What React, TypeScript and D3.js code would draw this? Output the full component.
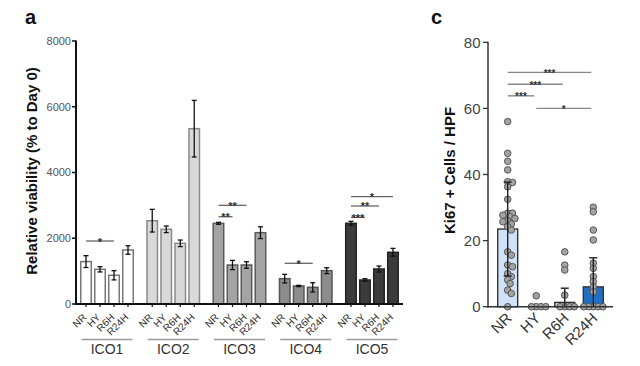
import React from 'react';
import * as d3 from 'd3';

// ---------- Panel a data ----------
const groups = ['ICO1', 'ICO2', 'ICO3', 'ICO4', 'ICO5'];
const conditions = ['NR', 'HY', 'R6H', 'R24H'];
const ico1Mean = [1290, 1055, 873, 1643];
const ico1Err = [180, 80, 140, 130];
const ico2Mean = [2534, 2272, 1846, 5333];
const ico2Err = [345, 100, 100, 860];
const ico3Mean = [2454, 1186, 1186, 2169];
const ico3Err = [30, 140, 100, 180];
const ico4Mean = [771, 548, 507, 1014];
const ico4Err = [130, 20, 140, 90];
const ico5Mean = [2454, 730, 1065, 1572];
const ico5Err = [60, 40, 90, 120];
const viabilityTicks = [0, 2000, 4000, 6000, 8000];
const sigA = [
  { group: 'ICO1', from: 'NR', to: 'R6H', y: 1916, label: '*' },
  { group: 'ICO3', from: 'NR', to: 'HY', y: 2655, label: '**' },
  { group: 'ICO3', from: 'NR', to: 'R6H', y: 3002, label: '**' },
  { group: 'ICO4', from: 'NR', to: 'R6H', y: 1238, label: '*' },
  { group: 'ICO5', from: 'NR', to: 'HY', y: 2637, label: '***' },
  { group: 'ICO5', from: 'NR', to: 'R6H', y: 2981, label: '**' },
  { group: 'ICO5', from: 'NR', to: 'R24H', y: 3264, label: '*' },
];

// ---------- Panel c data ----------
const kiCats = ['NR', 'HY', 'R6H', 'R24H'];
const kiMean = [23.5, 0, 1.3, 6.0];
const kiSd = [14.2, 0, 4.3, 8.8];
const kiNR = [56, 46.4, 44, 41.4, 37.8, 37.6, 36.3, 32.5, 28.3, 28.3, 27.7, 27.2, 26.7, 26, 25.7, 25, 24.2, 23.2, 16.6, 15.6, 12.6, 12.1, 10, 9.1, 8.1, 7, 5, 4, 0];
const kiHY = [3.3, 0, 0, 0, 0];
const kiR6H = [16.6, 12.6, 11.1, 3.5, 0, 0, 0, 0];
const kiR24H = [30.1, 28.7, 23.2, 20.2, 13.2, 11.6, 9.1, 7.6, 6, 4.5, 0, 0, 0, 0, 0];
const kiTicks = [0, 20, 40, 60, 80];
const sigC = [
  { from: 'NR', to: 'R24H', y: 70.9, label: '***' },
  { from: 'NR', to: 'R6H', y: 67.3, label: '***' },
  { from: 'NR', to: 'HY', y: 63.8, label: '***' },
  { from: 'HY', to: 'R24H', y: 60, label: '*' },
];

const groupMeans = [ico1Mean, ico2Mean, ico3Mean, ico4Mean, ico5Mean];
const groupErrs = [ico1Err, ico2Err, ico3Err, ico4Err, ico5Err];
const groupFill = ['#ffffff', '#d9d9d9', '#a4a4a4', '#8d8d8d', '#3b3b3b'];
const groupStroke = ['#777777', '#8a8a8a', '#5a5a5a', '#555555', '#222222'];
const kiValues = [kiNR, kiHY, kiR6H, kiR24H];
const kiFill = ['#cfe2f8', '#cfe2f8', '#cfe2f8', '#1f6fc5'];

const FONT = 'Liberation Sans, Arial, Helvetica, sans-serif';

function swarm(values: number[], y: (v: number) => number, minDist: number, step: number) {
  const order = values.map((v, i) => i).sort((a, b) => values[b] - values[a]);
  const placed: { x: number; y: number }[] = [];
  const offs = new Array(values.length).fill(0);
  order.forEach((i) => {
    const py = y(values[i]);
    for (let k = 0; k < 80; k++) {
      const m = Math.ceil(k / 2) * step * (k % 2 === 1 ? 1 : -1);
      const ok = placed.every((p) => Math.hypot(p.x - m, p.y - py) >= minDist);
      if (ok) {
        offs[i] = m;
        placed.push({ x: m, y: py });
        break;
      }
    }
  });
  return offs;
}

export default function App() {
  // Panel a scales
  const yA = d3.scaleLinear().domain([0, 8000]).range([304, 41]);
  const gx = d3.scaleBand<string>().domain(groups).range([73.9, 405.1]).padding(0);
  const bx = d3
    .scaleBand<string>()
    .domain(conditions)
    .range([5.1, 61.1])
    .paddingInner(0.25)
    .paddingOuter(0.125);
  const barCenter = (g: string, c: string) => (gx(g) as number) + (bx(c) as number) + bx.bandwidth() / 2;

  // Panel c scales
  const yC = d3.scaleLinear().domain([0, 80]).range([306.7, 42.3]);
  const cx = d3.scaleBand<string>().domain(kiCats).range([488, 613]).paddingInner(0.3).paddingOuter(0.34);
  const cCenter = (c: string) => (cx(c) as number) + cx.bandwidth() / 2;

  return (
    <svg
      width={640}
      height={366}
      style={{ position: 'absolute', left: 0, top: 0, background: '#fff' }}
      fontFamily={FONT}
    >
      <rect x={0} y={0} width={640} height={366} fill="#fff" />
      {/* ---------------- Panel a ---------------- */}
      <text x={25} y={24} fontSize={20} fontWeight="bold" fill="#111">a</text>
      <text
        transform={`translate(37,171) rotate(-90)`}
        textAnchor="middle"
        fontSize={15}
        fontWeight="bold"
        fill="#111"
      >
        Relative viability (% to Day 0)
      </text>
      {viabilityTicks.map((t) => (
        <g key={t}>
          <line x1={72} x2={76} y1={yA(t)} y2={yA(t)} stroke="#111" strokeWidth={1.5} />
          <text x={71} y={yA(t)} dy="0.35em" textAnchor="end" fontSize={11} fill="#555">
            {t}
          </text>
        </g>
      ))}
      {groups.map((g, gi) => (
        <g key={g}>
          {conditions.map((c, ci) => {
            const x = (gx(g) as number) + (bx(c) as number);
            const m = groupMeans[gi][ci];
            const e = groupErrs[gi][ci];
            const xc = barCenter(g, c);
            return (
              <g key={c}>
                <rect
                  x={x}
                  y={yA(m)}
                  width={bx.bandwidth()}
                  height={yA(0) - yA(m)}
                  fill={groupFill[gi]}
                  stroke={groupStroke[gi]}
                  strokeWidth={1.5}
                />
                <line x1={xc} x2={xc} y1={yA(m + e)} y2={yA(m - e)} stroke="#111" strokeWidth={1.3} />
                <line x1={xc - 2.5} x2={xc + 2.5} y1={yA(m + e)} y2={yA(m + e)} stroke="#111" strokeWidth={1.3} />
                <line x1={xc - 2.5} x2={xc + 2.5} y1={yA(m - e)} y2={yA(m - e)} stroke="#111" strokeWidth={1.3} />
                <line x1={xc} x2={xc} y1={304} y2={307} stroke="#111" strokeWidth={1.2} />
                <text
                  transform={`translate(${xc + 1},${318}) rotate(-45)`}
                  textAnchor="end"
                  fontSize={10}
                  fill="#333"
                >
                  {c}
                </text>
              </g>
            );
          })}
          <line
            x1={(gx(g) as number) + gx.bandwidth() / 2 - 25.5}
            x2={(gx(g) as number) + gx.bandwidth() / 2 + 25.5}
            y1={339.5}
            y2={339.5}
            stroke="#9a9a9a"
            strokeWidth={1.5}
          />
          <text
            x={(gx(g) as number) + gx.bandwidth() / 2}
            y={353.5}
            textAnchor="middle"
            fontSize={14}
            fill="#333"
          >
            {g}
          </text>
        </g>
      ))}
      {sigA.map((s, i) => {
        const x1 = barCenter(s.group, s.from);
        const x2 = barCenter(s.group, s.to);
        return (
          <g key={i}>
            <line x1={x1} x2={x2} y1={yA(s.y)} y2={yA(s.y)} stroke="#666" strokeWidth={1.3} />
            <text x={(x1 + x2) / 2} y={yA(s.y) + 4.5} textAnchor="middle" fontSize={11} fontWeight="bold" fill="#333">
              {s.label}
            </text>
          </g>
        );
      })}
      <line x1={76} x2={76} y1={40.5} y2={305} stroke="#111" strokeWidth={2} />
      <line x1={75} x2={403} y1={304} y2={304} stroke="#111" strokeWidth={2} />

      {/* ---------------- Panel c ---------------- */}
      <text x={431} y={24} fontSize={20} fontWeight="bold" fill="#111">c</text>
      <text
        transform={`translate(455,170.5) rotate(-90)`}
        textAnchor="middle"
        fontSize={15}
        fontWeight="bold"
        fill="#111"
      >
        Ki67 + Cells / HPF
      </text>
      {kiTicks.map((t) => (
        <g key={t}>
          <line x1={483} x2={488} y1={yC(t)} y2={yC(t)} stroke="#333" strokeWidth={1.3} />
          <text x={480.5} y={yC(t)} dy="0.35em" textAnchor="end" fontSize={15} fill="#444">
            {t}
          </text>
        </g>
      ))}
      {kiCats.map((c, i) => {
        const x = cx(c) as number;
        const xc = cCenter(c);
        const m = kiMean[i];
        const sd = kiSd[i];
        const top = m + sd;
        const bot = Math.max(0, m - sd);
        const offs = swarm(kiValues[i], yC, 4.2, 1.2);
        return (
          <g key={c}>
            <rect
              x={x}
              y={yC(m)}
              width={cx.bandwidth()}
              height={yC(0) - yC(m)}
              fill={kiFill[i]}
              stroke="#333"
              strokeWidth={1.4}
            />
            {kiValues[i].map((v, j) => (
              <circle
                key={j}
                cx={xc + offs[j]}
                cy={yC(v)}
                r={3.3}
                fill="#a3a3a3"
                stroke="#555"
                strokeWidth={1}
              />
            ))}
            {sd > 0 && (
              <g>
                <line x1={xc} x2={xc} y1={yC(top)} y2={yC(bot)} stroke="#222" strokeWidth={1.4} />
                <line x1={xc - 4} x2={xc + 4} y1={yC(top)} y2={yC(top)} stroke="#222" strokeWidth={1.4} />
                {m - sd > 0 && (
                  <line x1={xc - 4} x2={xc + 4} y1={yC(bot)} y2={yC(bot)} stroke="#222" strokeWidth={1.4} />
                )}
              </g>
            )}
            <text
              transform={`translate(${xc + 5},${319}) rotate(-45)`}
              textAnchor="end"
              fontSize={15}
              fill="#333"
            >
              {c}
            </text>
          </g>
        );
      })}
      {sigC.map((s, i) => {
        const x1 = cCenter(s.from);
        const x2 = cCenter(s.to) - 2;
        return (
          <g key={i}>
            <line x1={x1} x2={x2} y1={yC(s.y)} y2={yC(s.y)} stroke="#888" strokeWidth={1.4} />
            <text x={(x1 + x2) / 2} y={yC(s.y) + 4.5} textAnchor="middle" fontSize={10} fontWeight="bold" fill="#333">
              {s.label}
            </text>
          </g>
        );
      })}
      <line x1={488} x2={488} y1={41.8} y2={307.4} stroke="#333" strokeWidth={1.5} />
      <line x1={487.3} x2={613} y1={306.7} y2={306.7} stroke="#333" strokeWidth={1.5} />
    </svg>
  );
}
